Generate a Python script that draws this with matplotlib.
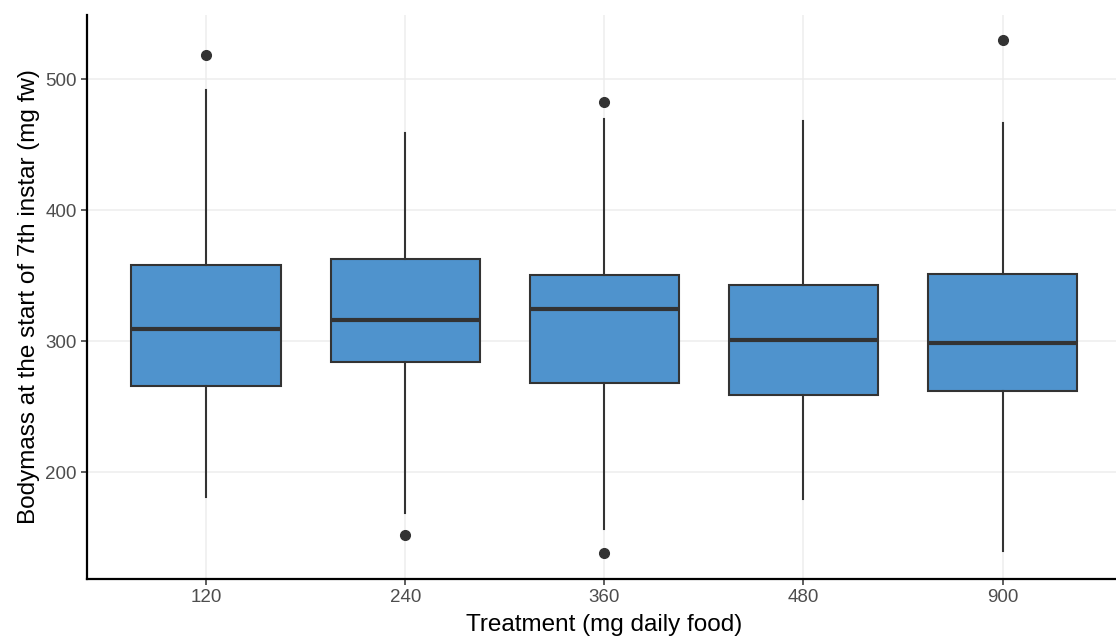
import matplotlib.pyplot as plt

plt.rcParams['font.family'] = ['Liberation Sans', 'DejaVu Sans']

# Box statistics
treatments = ['120', '240', '360', '480', '900']
whisker_low = [181, 169, 156.5, 179.5, 140]
q1 = [265.5, 284.5, 268.5, 259, 262]
median = [309, 316, 324.5, 301, 298.5]
q3 = [358, 362.5, 350.5, 343, 351]
whisker_high = [491.5, 459, 469.5, 468, 466.5]
outliers = [[518.5], [152], [482.5, 138], [], [530]]

stats = []
for i, t in enumerate(treatments):
    stats.append({
        'label': t,
        'whislo': whisker_low[i],
        'q1': q1[i],
        'med': median[i],
        'q3': q3[i],
        'whishi': whisker_high[i],
        'fliers': outliers[i],
    })

fig = plt.figure(figsize=(11.16, 6.38), dpi=100)
W, H = 1116, 638
left, right, top, bottom = 86.7, 1122, 14.7, 579
ax = fig.add_axes([left / W, 1 - bottom / H, (right - left) / W, (bottom - top) / H])

edge = '#333333'
ax.bxp(stats, positions=range(len(treatments)), widths=0.75, patch_artist=True,
       showcaps=False,
       boxprops=dict(facecolor='#4f93cd', edgecolor=edge, linewidth=1.5),
       medianprops=dict(color=edge, linewidth=3),
       whiskerprops=dict(color=edge, linewidth=1.5),
       flierprops=dict(marker='o', markerfacecolor=edge, markeredgecolor=edge, markersize=7),
       zorder=3)

ax.set_xlim(-0.6, 4.6)
ax.set_ylim(118.5, 549.3)
ax.set_yticks([200, 300, 400, 500])
ax.set_xticks(range(len(treatments)))
ax.set_xticklabels(treatments)

ax.grid(True, color='#ededed', linewidth=1.1, zorder=0)
ax.set_axisbelow(True)
for s in ['top', 'right']:
    ax.spines[s].set_visible(False)
for s in ['left', 'bottom']:
    ax.spines[s].set_linewidth(1.6)
    ax.spines[s].set_color('black')

ax.tick_params(axis='both', length=4, width=1.1, color='#333333', labelcolor='#4d4d4d',
               labelsize=13.5, pad=3)

ax.set_xlabel('Treatment (mg daily food)', fontsize=17.5, color='black', labelpad=6)
ax.set_ylabel('Bodymass at the start of 7th instar (mg fw)', fontsize=17.5, color='black', labelpad=4)

fig.savefig('out.png', dpi=100)
